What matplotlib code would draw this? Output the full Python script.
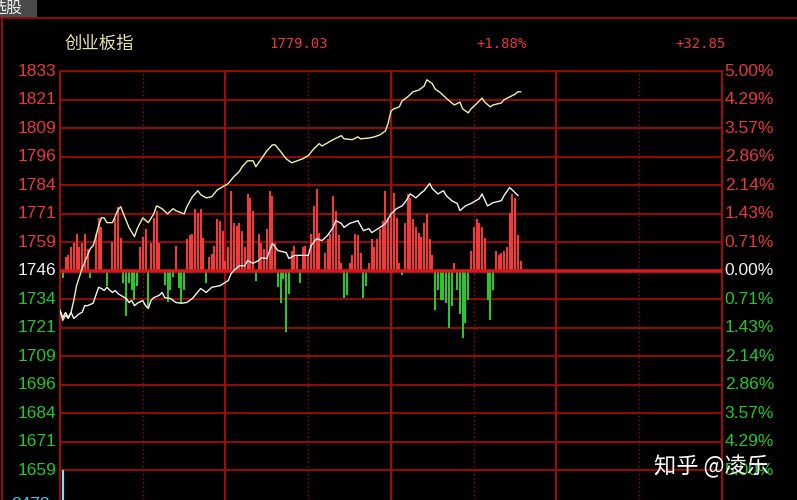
import matplotlib
matplotlib.use("Agg")
import matplotlib.pyplot as plt

plt.rcParams['font.family'] = ['Liberation Sans', 'Noto Sans CJK SC', 'DejaVu Sans']

# ---- data ----
index_name = "创业板指"
prev_close = 1746.18
last_price = 1779.03
change_pct = "+1.88%"
change_pts = "+32.85"

# left / right tick labels (grid every 5/7 %)
price_labels = ["1659", "1671", "1684", "1696", "1709", "1721", "1734", "1746",
                "1759", "1771", "1784", "1796", "1809", "1821", "1833"]
pct_labels = ["5.00%", "4.29%", "3.57%", "2.86%", "2.14%", "1.43%", "0.71%", "0.00%",
              "0.71%", "1.43%", "2.14%", "2.86%", "3.57%", "4.29%", "5.00%"]

# yellow line (minute, % change)
yellow_min = [0, 1, 2, 3, 4, 5, 6, 8, 10, 11, 12, 13, 14, 15, 16, 17, 19, 21, 22, 23,
              25, 27, 28, 30, 32, 34, 35, 37, 39, 41, 42, 45, 46, 48, 50, 51, 53, 55, 57, 59,
              61, 63, 65, 66, 68, 70, 71, 73, 75, 77, 78, 80, 82, 84, 86, 88, 90, 92, 94, 95,
              97, 99, 102, 103, 106, 108, 109, 112, 114, 116, 118, 119, 120, 121, 123, 124, 126, 128, 130, 132,
              133, 135, 136, 138, 140, 142, 143, 145, 146, 148, 149, 151, 153, 154, 156, 157, 160, 161, 163, 165,
              166, 167]
yellow_pct = [-1.00, -1.25, -1.12, -1.20, -1.05, -0.75, -0.38, 0.05, 0.38, 0.55,
              0.62, 0.85, 1.12, 1.32, 1.32, 1.20, 1.20, 1.52, 1.60, 1.42,
              1.08, 0.85, 1.05, 1.32, 1.20, 1.42, 1.62, 1.55, 1.42, 1.55,
              1.50, 1.42, 1.60, 1.85, 2.00, 1.90, 1.82, 1.85, 2.02, 2.10,
              2.18, 2.35, 2.48, 2.60, 2.75, 2.75, 2.60, 2.80, 3.00, 3.15,
              3.15, 2.98, 2.80, 2.70, 2.75, 2.80, 2.88, 3.05, 3.18, 3.12,
              3.20, 3.28, 3.38, 3.30, 3.28, 3.35, 3.30, 3.32, 3.35, 3.40,
              3.50, 3.70, 4.00, 4.05, 4.10, 4.25, 4.35, 4.48, 4.52, 4.62,
              4.78, 4.68, 4.55, 4.45, 4.32, 4.20, 4.15, 4.22, 4.05, 3.95,
              4.05, 4.18, 4.32, 4.22, 4.10, 4.15, 4.20, 4.28, 4.35, 4.42,
              4.48, 4.48]

# white line (minute, % change)
white_min = [0, 1, 2, 3, 4, 5, 7, 8, 9, 10, 12, 13, 14, 15, 16, 17, 19, 20, 21, 22,
             24, 25, 26, 27, 28, 30, 31, 32, 33, 34, 36, 37, 38, 40, 42, 44, 46, 48, 51, 53,
             55, 58, 61, 62, 63, 65, 67, 68, 70, 72, 73, 75, 76, 77, 79, 82, 83, 85, 88, 90,
             91, 93, 95, 97, 99, 100, 102, 103, 105, 108, 110, 112, 113, 116, 118, 120, 122, 124, 125, 127,
             129, 131, 132, 134, 135, 137, 139, 140, 142, 144, 145, 147, 149, 152, 153, 155, 157, 160, 161, 163,
             165, 166]
white_pct = [-1.00, -1.18, -1.05, -1.18, -1.05, -1.20, -1.08, -1.05, -0.88, -0.88,
             -0.82, -0.62, -0.42, -0.45, -0.50, -0.42, -0.55, -0.50, -0.58, -0.62,
             -0.70, -0.80, -0.75, -0.88, -0.82, -0.75, -0.88, -0.95, -0.75, -0.68,
             -0.62, -0.55, -0.68, -0.70, -0.80, -0.82, -0.80, -0.70, -0.45, -0.55,
             -0.42, -0.38, -0.25, -0.08, 0.00, 0.12, 0.12, 0.25, 0.18, 0.25,
             0.32, 0.30, 0.50, 0.68, 0.50, 0.45, 0.30, 0.38, 0.38, 0.38,
             0.62, 0.80, 0.75, 0.88, 1.08, 1.25, 1.18, 1.08, 1.18, 1.25,
             1.00, 1.05, 0.95, 1.08, 1.18, 1.42, 1.55, 1.62, 1.70, 1.92,
             1.82, 1.95, 2.00, 2.18, 2.05, 1.92, 2.00, 1.88, 1.75, 1.68,
             1.50, 1.62, 1.68, 1.80, 1.92, 1.62, 1.70, 1.75, 1.88, 2.08,
             1.95, 1.88]

# red/green strength bars (minute, value)
bar_min = [1, 2, 3, 4, 5, 6, 7, 8, 9, 10, 11, 13, 14, 15, 17, 19, 20, 21, 22,
           23, 24, 25, 26, 27, 28, 29, 30, 31, 32, 33, 34, 35, 36, 38, 39, 40, 41,
           42, 43, 44, 45, 46, 47, 48, 49, 50, 51, 52, 53,
           54, 55, 56, 57, 58, 59, 60, 61, 62, 63, 64, 65, 66, 67, 68, 69, 70, 71,
           72, 73, 74, 75, 76, 77, 78, 79, 80, 81, 82, 83, 84, 85, 86, 87,
           88, 89, 90, 91, 92, 93, 94, 96, 97, 98, 99, 100, 101, 102, 103, 104,
           105, 106, 107, 108, 109, 110, 111,
           112, 113, 114, 115, 116, 117, 118, 119, 120, 121, 122, 123, 124,
           125, 126, 127, 128, 129, 130, 131, 132, 133, 134, 135,
           136, 137, 138, 139, 140, 141, 142, 143, 144, 145, 146, 147, 148,
           149, 150, 151, 152, 153, 154, 155, 156, 157,
           158, 159, 160, 161, 162, 163, 164, 165, 166, 167]
bar_val = [-0.18, 0.33, 0.38, 0.58, 0.70, 0.92, 0.58, 0.70, 0.92, 0.55, -0.18, 0.92, 1.32, 1.08, -0.38, 0.72, 1.32, 1.58, 0.82,
           -0.30, -1.15, -0.30, -0.50, -0.75, -0.40, 0.60, 0.85, 1.05, -0.95, 0.68, 1.32, 1.50, 0.70, -0.35, -0.80, -0.50, -0.15,
           0.62, -0.45, -0.82, -0.50, 0.80, 0.88, 0.92, 1.55, 1.45, 1.55, 0.82, -0.30,
           0.35, 0.42, 0.62, 1.30, 1.25, 1.00, 0.25, 0.58, 2.00, 1.18, 1.12, 1.18, 1.00, 0.58, 1.92, 1.82, 1.50, -0.25,
           0.92, 0.70, 0.55, 1.05, 2.00, 1.88, 0.68, -0.42, -0.82, -0.20, -1.55, -0.58, 0.50, 0.62, 0.38, -0.32,
           0.58, 0.62, 0.38, 0.92, 1.62, 2.05, 0.95, 0.45, 0.80, 0.92, 1.88, 1.50, 0.88, 0.20, -0.70, -0.62,
           0.18, 0.38, 0.92, 0.88, 0.45, -0.70, -0.38,
           0.18, 0.80, 0.58, 0.80, 1.05, 1.25, 2.00, 1.32, 1.40, 1.95, 1.32, 0.18, -0.10,
           1.18, 1.92, 1.82, 1.30, 1.08, 0.95, 0.85, 1.18, 1.42, 0.80, 0.38,
           -1.00, -0.50, -0.75, -0.75, -0.82, -1.45, -0.88, 0.20, -0.50, -1.08, -1.68, -1.32, -0.75,
           0.50, 1.08, 1.30, 1.18, 1.08, 0.82, -0.75, -1.25, -0.50,
           0.50, 0.38, 0.45, 0.50, 0.58, 1.45, 1.92, 1.82, 0.88, 0.25]

# ---- figure ----
W, H = 797, 500
fig = plt.figure(figsize=(W / 100, H / 100), dpi=100, facecolor='black')

def fx(px):
    return px / W

def fy(py):
    return 1 - py / H

grid_col = '#a00c0c'
red_txt = '#e8383a'
green_txt = '#22c82a'

ax = fig.add_axes([fx(60), 0, fx(722) - fx(60), fy(71)])
ax.set_facecolor('black')
step = 5.0 / 7
ymin = -5.0 - 30 / 28.57 * step
ax.set_xlim(0, 240)
ax.set_ylim(ymin, 5.0)
ax.set_xticks([])
ax.set_yticks([])
for s in ax.spines.values():
    s.set_visible(False)

# grid
for k in range(-7, 8):
    if k == 0:
        continue
    ax.axhline(k * step, color=grid_col, lw=1.3, zorder=1, clip_on=False)
for m in [0, 60, 120, 180, 240]:
    ax.axvline(m, color=grid_col, lw=1.5, zorder=1, clip_on=False)
for m in [30, 90, 150, 210]:
    ax.axvline(m, color=grid_col, lw=1.0, ls=(0, (1, 2)), zorder=1)

# bars
cols = ['#ff3a3a' if v > 0 else '#28d028' for v in bar_val]
ax.vlines(bar_min, 0, bar_val, colors=cols, lw=1.4, zorder=2)
ax.axhline(0, color='#d41a1a', lw=2.6, zorder=3)

# lines
ax.plot(yellow_min, yellow_pct, color='#f2f0b0', lw=1.0, zorder=4)
ax.plot(white_min, white_pct, color='#f4f4f4', lw=1.0, zorder=4)

# first-minute volume stick below
ax.vlines([1], ymin, -5.0, colors='#7fe0ff', lw=1.6, zorder=2)

# y labels
for i, k in enumerate(range(-7, 8)):
    y = k * step
    c = red_txt if k > 0 else ('#f0f0f0' if k == 0 else green_txt)
    ax.text(-1.2, y, price_labels[i], color=c, fontsize=12.5, ha='right', va='center', clip_on=False)
    ax.text(241.0, y, pct_labels[i], color=c, fontsize=12.5, ha='left', va='center', clip_on=False)

# cut-off cyan label at the bottom
fig.text(fx(50), fy(497), "2473", color='#40c8e8', fontsize=12.5, ha='right', va='top')

# header
fig.add_artist(plt.Line2D([0, 1], [fy(18), fy(18)], color=grid_col, lw=1.3))
fig.add_artist(plt.Line2D([fx(2), fx(2)], [fy(18), 0], color=grid_col, lw=1.3))
fig.patches.append(plt.Rectangle((0, fy(17)), fx(37), fy(0) - fy(17), transform=fig.transFigure,
                                 facecolor='#4a4a4a', edgecolor='none'))
fig.text(fx(22), fy(8), "选股", color='#f0f0f0', fontsize=11.5, ha='right', va='center')
fig.text(fx(65), fy(44), index_name, color='#e6e6a8', fontsize=12.5, ha='left', va='center')
fig.text(fx(299), fy(44), f"{last_price:.2f}", color=red_txt, fontsize=10, ha='center', va='center',
         family='DejaVu Sans Mono')
fig.text(fx(502), fy(44), change_pct, color=red_txt, fontsize=10, ha='center', va='center',
         family='DejaVu Sans Mono')
fig.text(fx(701), fy(44), change_pts, color=red_txt, fontsize=10, ha='center', va='center',
         family='DejaVu Sans Mono')

# watermark
fig.text(fx(712), fy(466), "知乎 @凌乐", color='white', fontsize=16, ha='center', va='center',
         family=['Noto Sans CJK SC', 'DejaVu Sans'])

fig.savefig("out.png", dpi=100, facecolor='black')
